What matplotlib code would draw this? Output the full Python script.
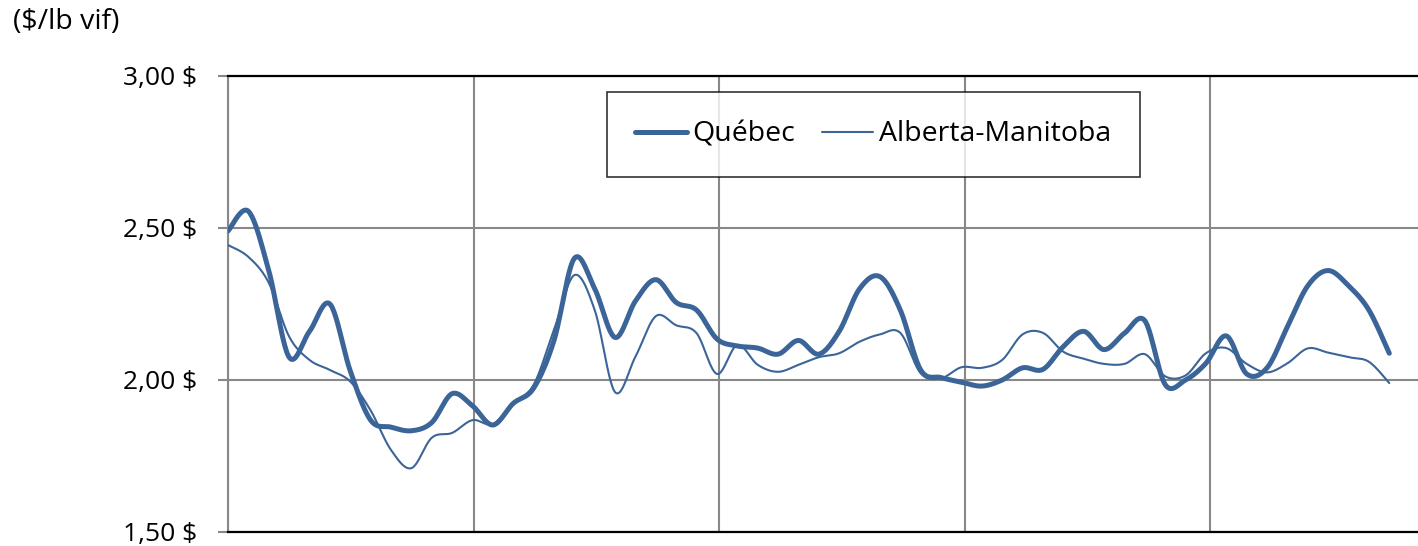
import numpy as np
import matplotlib
matplotlib.use("Agg")
import matplotlib.pyplot as plt

plt.rcParams['font.family'] = ['Open Sans', 'DejaVu Sans']

# ---- data (monthly points) ----
quebec = [2.49, 2.555, 2.36, 2.075, 2.16, 2.25, 2.03, 1.868, 1.845, 1.833,
          1.86, 1.955, 1.915, 1.852, 1.923, 1.973, 2.13, 2.40, 2.30, 2.14,
          2.26, 2.33, 2.255, 2.23, 2.135, 2.112, 2.105, 2.085, 2.13, 2.085,
          2.16, 2.30, 2.34, 2.23, 2.033, 2.008, 1.993, 1.98, 2.00, 2.04,
          2.035, 2.11, 2.16, 2.10, 2.154, 2.195, 1.985, 2.00, 2.055, 2.145,
          2.02, 2.04, 2.175, 2.31, 2.36, 2.31, 2.23, 2.088]
alberta = [2.444, 2.405, 2.32, 2.143, 2.066, 2.033, 1.995, 1.90, 1.77, 1.71,
           1.81, 1.826, 1.868, 1.855, 1.925, 1.984, 2.165, 2.345, 2.23, 1.96,
           2.077, 2.21, 2.18, 2.154, 2.02, 2.115, 2.05, 2.027, 2.05, 2.075,
           2.088, 2.126, 2.15, 2.155, 2.022, 2.006, 2.042, 2.04, 2.066, 2.15,
           2.155, 2.093, 2.07, 2.053, 2.053, 2.085, 2.012, 2.015, 2.088, 2.105,
           2.053, 2.025, 2.055, 2.104, 2.09, 2.075, 2.06, 1.99]
series_names = ["Québec", "Alberta-Manitoba"]
y_ticks = [1.50, 2.00, 2.50, 3.00]
y_label = "($/lb vif)"

COLOR = '#3b6598'
FS = 20.5
FS_TICK = 19


def smooth(y, n=24):
    """Excel-like smoothed line (Catmull-Rom / Bezier with 1/6 tension)."""
    y = np.asarray(y, float)
    x = np.arange(len(y), dtype=float)
    P = np.column_stack([x, y])
    Pe = np.vstack([P[0], P, P[-1]])
    out = []
    t = np.linspace(0, 1, n, endpoint=False)[:, None]
    for i in range(len(P) - 1):
        p0, p1, p2, p3 = Pe[i], Pe[i + 1], Pe[i + 2], Pe[i + 3]
        b1 = p1 + (p2 - p0) / 6.0
        b2 = p2 - (p3 - p1) / 6.0
        seg = ((1 - t) ** 3) * p1 + 3 * ((1 - t) ** 2) * t * b1 + 3 * (1 - t) * t ** 2 * b2 + t ** 3 * p2
        out.append(seg)
    out.append(P[-1][None, :])
    out = np.vstack(out)
    return out[:, 0], out[:, 1]


fig = plt.figure(figsize=(14.18, 5.46), dpi=100)
W, H = 1418, 546
left_px, top_px, bot_px = 228, 76, 532
grid_step = 12.05
x_max = 5 * grid_step
px_per_unit = 245.5 / grid_step
right_px = left_px + x_max * px_per_unit
ax = fig.add_axes([left_px / W, 1 - bot_px / H, (right_px - left_px) / W, (bot_px - top_px) / H])

xq, yq = smooth(quebec)
xa, ya = smooth(alberta)
ax.plot(xq, yq, color=COLOR, lw=3.6, solid_capstyle='round', solid_joinstyle='round',
        label=series_names[0], zorder=3)
ax.plot(xa, ya, color=COLOR, lw=1.5, solid_capstyle='round', label=series_names[1], zorder=3)

ax.set_xlim(0, x_max)
ax.set_ylim(1.5, 3.0)
ax.set_xticks(np.arange(0, x_max + 0.01, grid_step))
ax.set_yticks(y_ticks)
ax.set_yticklabels([f"{v:.2f} $".replace('.', ',') for v in y_ticks], fontsize=FS_TICK)
ax.tick_params(axis='x', length=0, labelbottom=False)
ax.tick_params(axis='y', length=7.2, width=1.5, color='#888888', pad=15)
ax.grid(True, color='#888888', lw=1.5, zorder=1)
ax.set_axisbelow(True)

ax.spines['right'].set_visible(False)
ax.spines['left'].set_color('#888888')
ax.spines['left'].set_linewidth(1.5)
for s in ['top', 'bottom']:
    ax.spines[s].set_color('black')
    ax.spines[s].set_linewidth(1.6)
ticks = ax.yaxis.get_major_ticks()
ticks[0].tick1line.set_color('black')
ticks[-1].tick1line.set_color('black')

fig.text(13 / W, 1 - 22 / H, y_label, fontsize=FS, ha='left', va='center')

leg = fig.legend(loc='upper left', bbox_to_anchor=(607 / W, 1 - 92 / H), ncol=2,
                 fontsize=FS, frameon=True, fancybox=False, edgecolor='black',
                 handlelength=1.8, handletextpad=0.2, columnspacing=0.95,
                 borderpad=1.0, borderaxespad=0)
leg.get_frame().set_linewidth(1.2)

fig.savefig('out.png', dpi=100)
